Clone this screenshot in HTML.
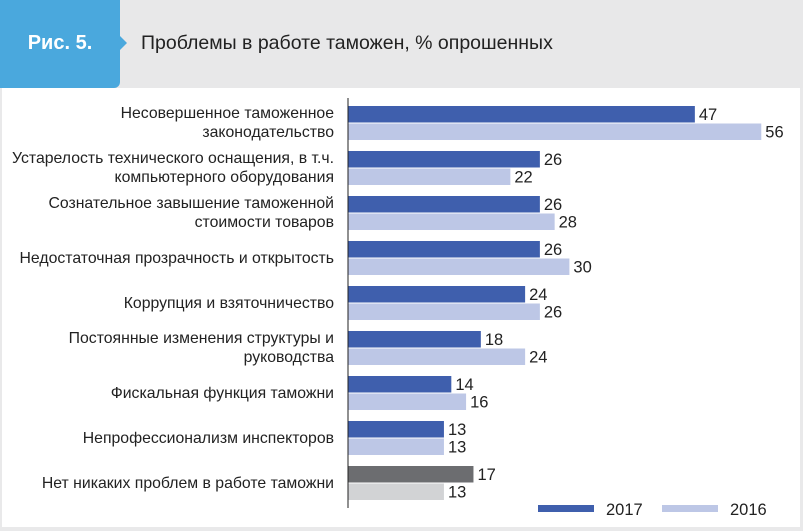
<!DOCTYPE html>
<html><head><meta charset="utf-8"><style>
body{margin:0;width:803px;height:531px;overflow:hidden;background:#e9e9ea;font-family:"Liberation Sans",sans-serif}
#frame{position:absolute;left:2px;top:0;width:798px;height:527px;background:#fff}
#head{position:absolute;left:0;top:0;width:803px;height:88px;background:#e8e8e9}
#tab{position:absolute;left:0;top:0;width:120px;height:88px;background:#4aa8dd;border-radius:0 0 6px 0}
#tab:after{content:"";position:absolute;left:120px;top:36px;border-left:7px solid #4aa8dd;border-top:7px solid transparent;border-bottom:7px solid transparent}
#tabtxt{position:absolute;left:0;top:32px;width:120px;text-align:center;color:#fff;font-weight:bold;font-size:20px}
#title{position:absolute;left:141px;top:32px;font-size:19.5px;color:#222}
svg{position:absolute;left:0;top:0}
</style></head><body>
<div id="frame"></div>
<div id="head"></div>
<div id="tab"><div id="tabtxt">Рис. 5.</div></div>
<div id="title">Проблемы в работе таможен, % опрошенных</div>
<svg id="chart" width="803" height="531"></svg>
<script>
const categories=[["Несовершенное таможенное","законодательство"],["Устарелость технического оснащения, в т.ч.","компьютерного оборудования"],["Сознательное завышение таможенной","стоимости товаров"],["Недостаточная прозрачность и открытость"],["Коррупция и взяточничество"],["Постоянные изменения структуры и","руководства"],["Фискальная функция таможни"],["Непрофессионализм инспекторов"],["Нет никаких проблем в работе таможни"]];
const values2017=[47,26,26,26,24,18,14,13,17];
const values2016=[56,22,28,30,26,24,16,13,13];
const seriesNames=["2017","2016"];
const NS="http://www.w3.org/2000/svg";
const svg=document.getElementById('chart');
const x0=348,scale=7.38,top0=106,step=45,bh=16.5;
const xs=v=>x0+v*scale;
function mk(t,a){const e=document.createElementNS(NS,t);for(const k in a)e.setAttribute(k,a[k]);svg.appendChild(e);return e;}
categories.forEach((c,i)=>{
  const y=top0+i*step;
  const last=i===categories.length-1;
  [values2017[i],values2016[i]].forEach((v,j)=>{
    const yy=y+j*(bh+1);
    const r=mk('rect',{x:x0,y:yy,width:xs(v)-x0,height:bh,fill:last?(j?'#d2d3d5':'#6c6d70'):(j?'#bdc7e6':'#3f5fad')});
    
    
    const t=mk('text',{x:xs(v)+4,y:yy+14,'font-size':16.5,fill:'#222'});
    t.textContent=v;
    
    
  });
  const lines=c;
  const mid=y+bh+0.5;
  lines.forEach((l,k)=>{
    const ty=lines.length===2?(k?mid+14:mid-5):mid+5;
    const t=mk('text',{x:334,y:ty,'font-size':15.8,fill:'#222','text-anchor':'end'});
    t.textContent=l;
    
    
  });
});
const ax=mk('line',{x1:x0,x2:x0,y1:98,y2:508,stroke:'#222','stroke-width':1});


[[538,'#3f5fad',606],[662,'#bdc7e6',730]].forEach((l,j)=>{
  const r=mk('rect',{x:l[0],y:505,width:56,height:7,fill:l[1]});
  
  
  const t=mk('text',{x:l[2],y:515,'font-size':16.5,fill:'#222'});
  t.textContent=seriesNames[j];
  
  
});
</script>
</body></html>
